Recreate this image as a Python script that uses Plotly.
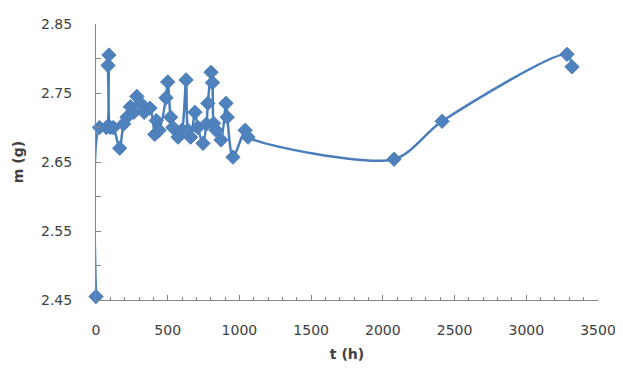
import plotly.graph_objects as go

t_hours = [0, 24, 72, 84, 90, 100, 120, 165, 192, 216, 240, 264, 285, 312, 336, 376,
           410, 420, 440, 488, 500, 520, 536, 572, 600, 628, 640, 660, 690, 710, 746,
           770, 780, 802, 812, 820, 837, 872, 906, 915, 955, 1040, 1060, 2078, 2413, 3284, 3319]
mass_g = [2.455, 2.700, 2.700, 2.790, 2.805, 2.700, 2.700, 2.670, 2.705, 2.715, 2.730, 2.722, 2.745, 2.735, 2.722, 2.728,
          2.690, 2.710, 2.696, 2.743, 2.766, 2.715, 2.700, 2.686, 2.696, 2.769, 2.696, 2.686, 2.722, 2.700, 2.677,
          2.705, 2.735, 2.780, 2.765, 2.706, 2.696, 2.682, 2.735, 2.715, 2.657, 2.696, 2.686, 2.654, 2.709, 2.806, 2.788]

x_ticks = [0, 500, 1000, 1500, 2000, 2500, 3000, 3500]
y_ticks = [2.45, 2.55, 2.65, 2.75, 2.85]

font_family = "'DejaVu Sans', sans-serif"

fig = go.Figure()
fig.add_trace(go.Scatter(
    x=t_hours, y=mass_g, mode="lines+markers",
    line=dict(color="#4A7EBB", width=2.5, shape="spline", smoothing=0.8),
    marker=dict(symbol="diamond", size=11, color="#4F81BD", line=dict(color="#4A7EBB", width=1)),
    cliponaxis=False, showlegend=False,
))

fig.update_layout(
    width=615, height=363,
    margin=dict(l=88, r=25, t=16, b=71),
    paper_bgcolor="white", plot_bgcolor="white",
    font=dict(family=font_family, size=14, color="#404040"),
    xaxis=dict(
        range=[0, 3500], tickvals=x_ticks, ticktext=[str(v) for v in x_ticks],
        showgrid=False, zeroline=False, showline=True, linecolor="#868686", linewidth=1,
        ticks="inside", ticklen=5, tickcolor="#868686", ticklabelstandoff=17,
        automargin=False,
        minor=dict(dtick=100, tick0=0, ticks="inside", ticklen=3, tickcolor="#868686", showgrid=False),
        title=dict(text="<b>t (h)</b>", font=dict(size=14, color="#404040"), standoff=12),
    ),
    yaxis=dict(
        range=[2.45, 2.85], tickvals=y_ticks, ticktext=[f"{v:.2f}" for v in y_ticks],
        showgrid=False, zeroline=False, showline=True, linecolor="#868686", linewidth=1,
        ticks="inside", ticklen=5, tickcolor="#868686", ticklabelstandoff=20,
        automargin=False,
        minor=dict(dtick=0.05, tick0=2.45, ticks="inside", ticklen=5, tickcolor="#868686", showgrid=False),
        title=dict(text="<b>m (g)</b>", font=dict(size=14, color="#404040"), standoff=14),
    ),
)

fig.write_html("out.html")
